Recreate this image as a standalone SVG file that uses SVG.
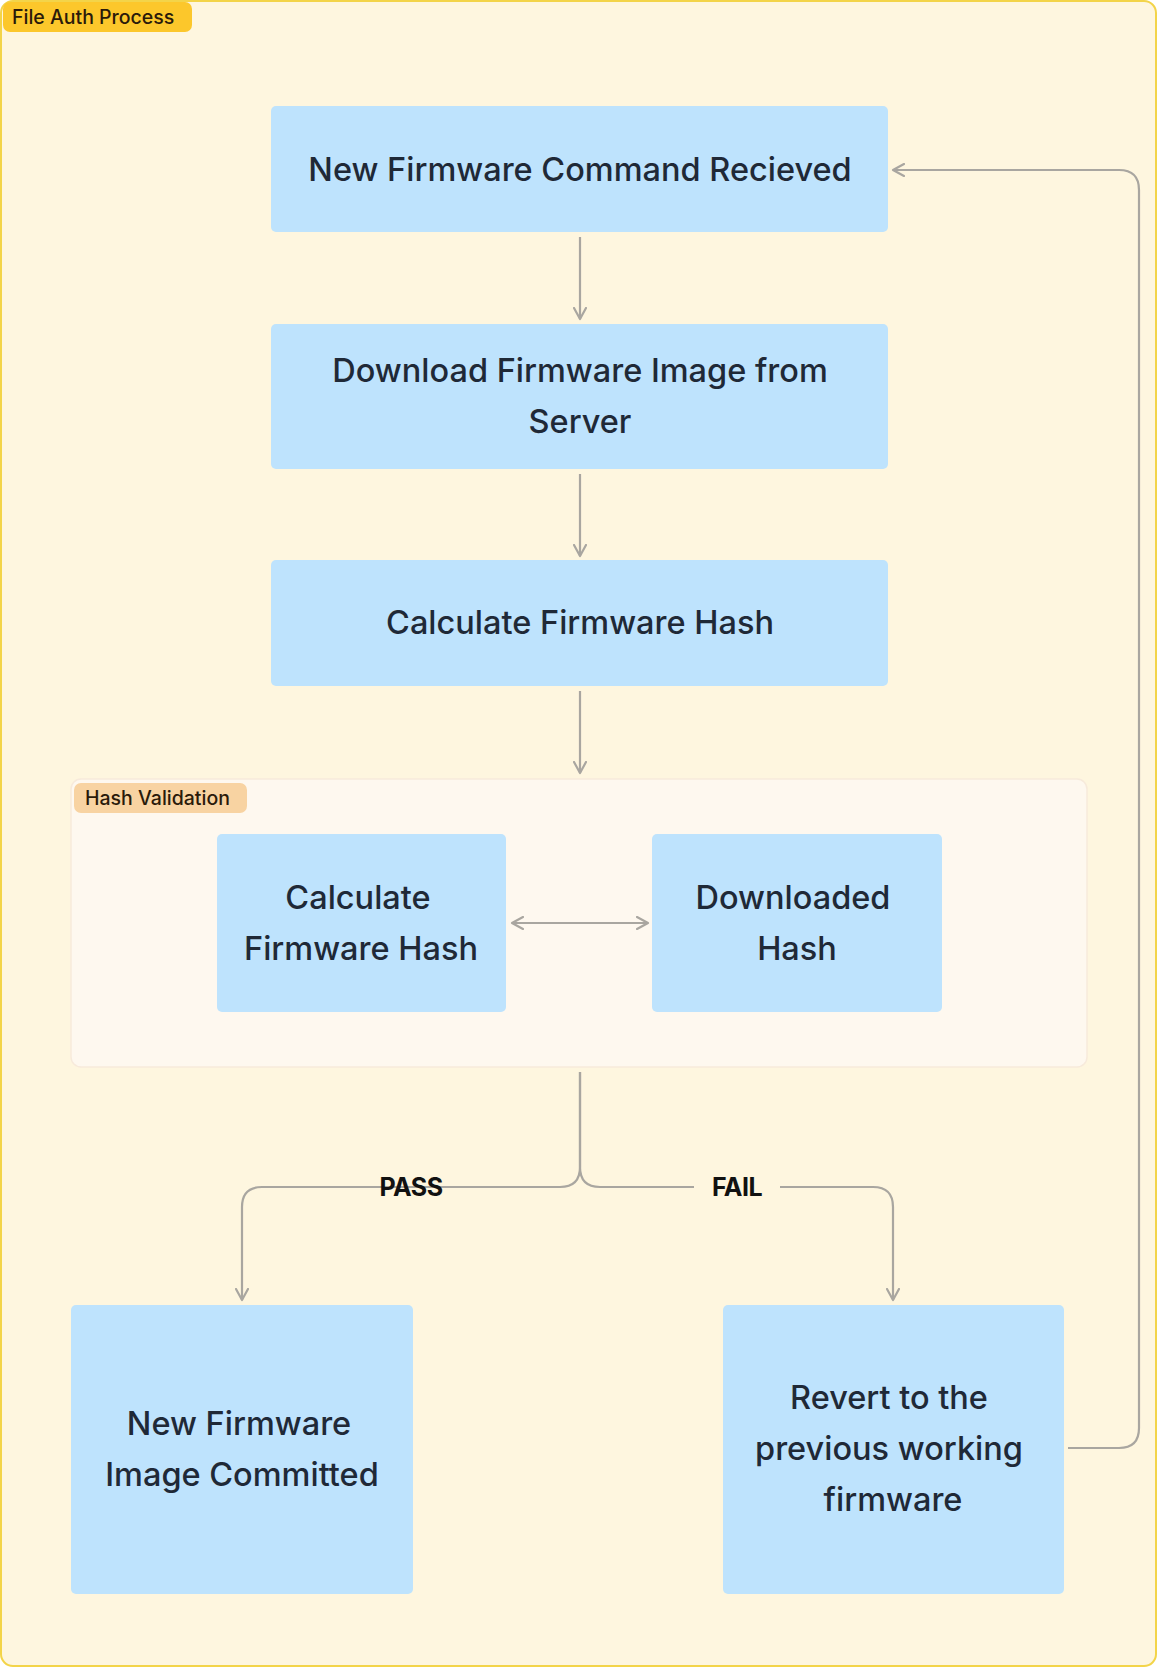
<svg xmlns="http://www.w3.org/2000/svg" width="1157" height="1667" viewBox="0 0 1157 1667">
<defs>
<style>
.node{fill:#BEE3FD;}
.nt{font-family:Inter,"Liberation Sans",sans-serif;font-size:32.5px;font-weight:500;fill:#1F2937;text-anchor:middle;}
.conn{fill:none;stroke:#A9A6A0;stroke-width:2.2;}
.lbl{font-family:Inter,"Liberation Sans",sans-serif;font-size:25px;font-weight:700;fill:#111111;text-anchor:middle;letter-spacing:-0.5px;}
.tag{font-family:Inter,"Liberation Sans",sans-serif;font-size:19.5px;font-weight:500;fill:#2A1A0A;}
</style>
<marker id="arr" viewBox="0 0 14 14" refX="12" refY="7" markerWidth="14" markerHeight="14" markerUnits="userSpaceOnUse" orient="auto-start-reverse">
<path d="M1,1 L12,7 L1,13" fill="none" stroke="#A9A6A0" stroke-width="2.2" stroke-linecap="round" stroke-linejoin="round"/>
</marker>
</defs>
<g id="frame">
<rect x="1" y="1" width="1155" height="1665" rx="12" fill="#FEF6DF" stroke="#F3D449" stroke-width="2"/>
<rect x="3" y="2" width="189" height="30" rx="7" fill="#FCC72B"/>
<text class="tag" x="12" y="24">File Auth Process</text>
</g>
<g id="hash-validation">
<rect x="71" y="779" width="1016" height="288" rx="10" fill="#FEF8EF" stroke="#F7EADB" stroke-width="1.5"/>
<rect x="74" y="783" width="173" height="30" rx="7" fill="#F8D3A2"/>
<text class="tag" x="85" y="805" font-size="18.5">Hash Validation</text>
</g>
<g id="n1">
<rect class="node" x="271" y="106" width="617" height="126" rx="5"/>
<text class="nt" x="580" y="181">New Firmware Command Recieved</text>
</g>
<g id="n2">
<rect class="node" x="271" y="324" width="617" height="145" rx="5"/>
<text class="nt" x="580" y="382">Download Firmware Image from</text>
<text class="nt" x="580" y="433">Server</text>
</g>
<g id="n3">
<rect class="node" x="271" y="560" width="617" height="126" rx="5"/>
<text class="nt" x="580" y="634">Calculate Firmware Hash</text>
</g>
<g id="n4">
<rect class="node" x="217" y="834" width="289" height="178" rx="5"/>
<text class="nt" x="358" y="909">Calculate</text>
<text class="nt" x="361" y="960">Firmware Hash</text>
</g>
<g id="n5">
<rect class="node" x="652" y="834" width="290" height="178" rx="5"/>
<text class="nt" x="793" y="909">Downloaded</text>
<text class="nt" x="797" y="960">Hash</text>
</g>
<g id="n6">
<rect class="node" x="71" y="1305" width="342" height="289" rx="5"/>
<text class="nt" x="239" y="1435">New Firmware</text>
<text class="nt" x="242" y="1486">Image Committed</text>
</g>
<g id="n7">
<rect class="node" x="723" y="1305" width="341" height="289" rx="5"/>
<text class="nt" x="889" y="1409">Revert to the</text>
<text class="nt" x="889" y="1460">previous working</text>
<text class="nt" x="893" y="1511">firmware</text>
</g>
<g id="connectors">
<path class="conn" d="M580,237 L580,319" marker-end="url(#arr)"/>
<path class="conn" d="M580,474 L580,556" marker-end="url(#arr)"/>
<path class="conn" d="M580,691 L580,773" marker-end="url(#arr)"/>
<path class="conn" d="M512,923 L648,923" marker-start="url(#arr)" marker-end="url(#arr)"/>
<path class="conn" d="M580,1072 L580,1167 Q580,1187 560,1187 L262,1187 Q242,1187 242,1207 L242,1300" marker-end="url(#arr)"/>
<path class="conn" d="M580,1072 L580,1167 Q580,1187 600,1187 L873,1187 Q893,1187 893,1207 L893,1300" marker-end="url(#arr)"/>
<path class="conn" d="M1068,1448 L1119,1448 Q1139,1448 1139,1428 L1139,190 Q1139,170 1119,170 L893,170" marker-end="url(#arr)"/>
<rect x="694" y="1172" width="86" height="30" fill="#FEF6DF"/>
<text class="lbl" x="411" y="1196">PASS</text>
<text class="lbl" x="737" y="1196">FAIL</text>
</g>
</svg>
